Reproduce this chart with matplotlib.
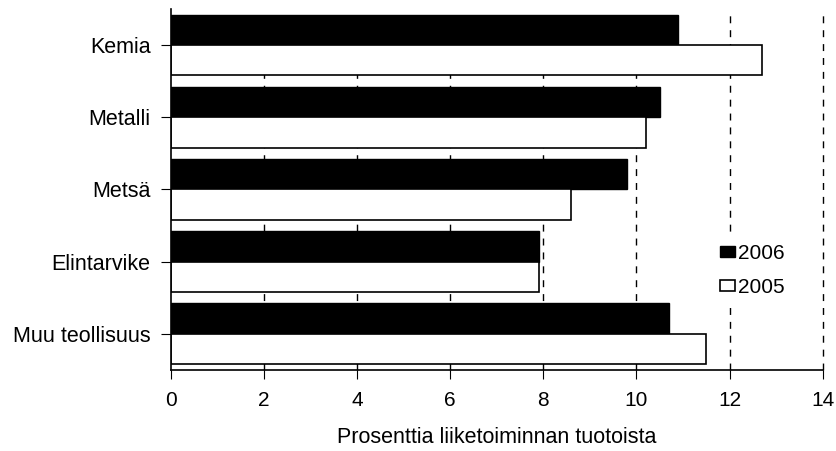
import matplotlib.pyplot as plt
import numpy as np

plt.rcParams['font.family'] = ['Liberation Sans', 'DejaVu Sans']

categories = ['Kemia', 'Metalli', 'Metsä', 'Elintarvike', 'Muu teollisuus']
values_2006 = [10.9, 10.5, 9.8, 7.9, 10.7]
values_2005 = [12.7, 10.2, 8.6, 7.9, 11.5]
xticks = [0, 2, 4, 6, 8, 10, 12, 14]

fig = plt.figure(figsize=(8.37, 4.51), dpi=100)
ax = fig.add_axes([0.204, 0.18, 0.779, 0.80])

y = np.arange(len(categories))
h = 0.42

# gridlines behind the bars
for gx in xticks[1:]:
    ax.axvline(gx, color='black', linewidth=1.0, linestyle=(0, (5, 5)),
               zorder=0, clip_on=False)

ax.barh(y - h / 2, values_2006, h, color='black', edgecolor='black',
        linewidth=1.0, label='2006', zorder=2)
ax.barh(y + h / 2, values_2005, h, color='white', edgecolor='black',
        linewidth=1.2, label='2005', zorder=2)

ax.set_ylim(len(categories) - 0.5, -0.5)
ax.set_xlim(0, 14)
ax.set_xticks(xticks)
ax.set_yticks(y)
ax.set_yticklabels(categories, fontsize=15.5)
ax.tick_params(axis='x', labelsize=15, direction='out', length=6.5, pad=9)
ax.tick_params(axis='y', direction='out', length=7.5, pad=7)

ax.set_xlabel('Prosenttia liiketoiminnan tuotoista', fontsize=15.5, labelpad=12)

ax.spines['top'].set_visible(False)
ax.spines['right'].set_visible(False)
ax.spines['left'].set_linewidth(1.2)
ax.spines['bottom'].set_linewidth(1.2)

leg = ax.legend(loc='center left', bbox_to_anchor=(0.817, 0.276), frameon=True,
                fontsize=15, handlelength=0.7, handleheight=0.45,
                handletextpad=0.15, labelspacing=0.7, borderpad=0.3,
                fancybox=False, framealpha=1.0)
leg.get_frame().set_edgecolor('none')
leg.get_frame().set_facecolor('white')

fig.savefig('out.png', dpi=100)
